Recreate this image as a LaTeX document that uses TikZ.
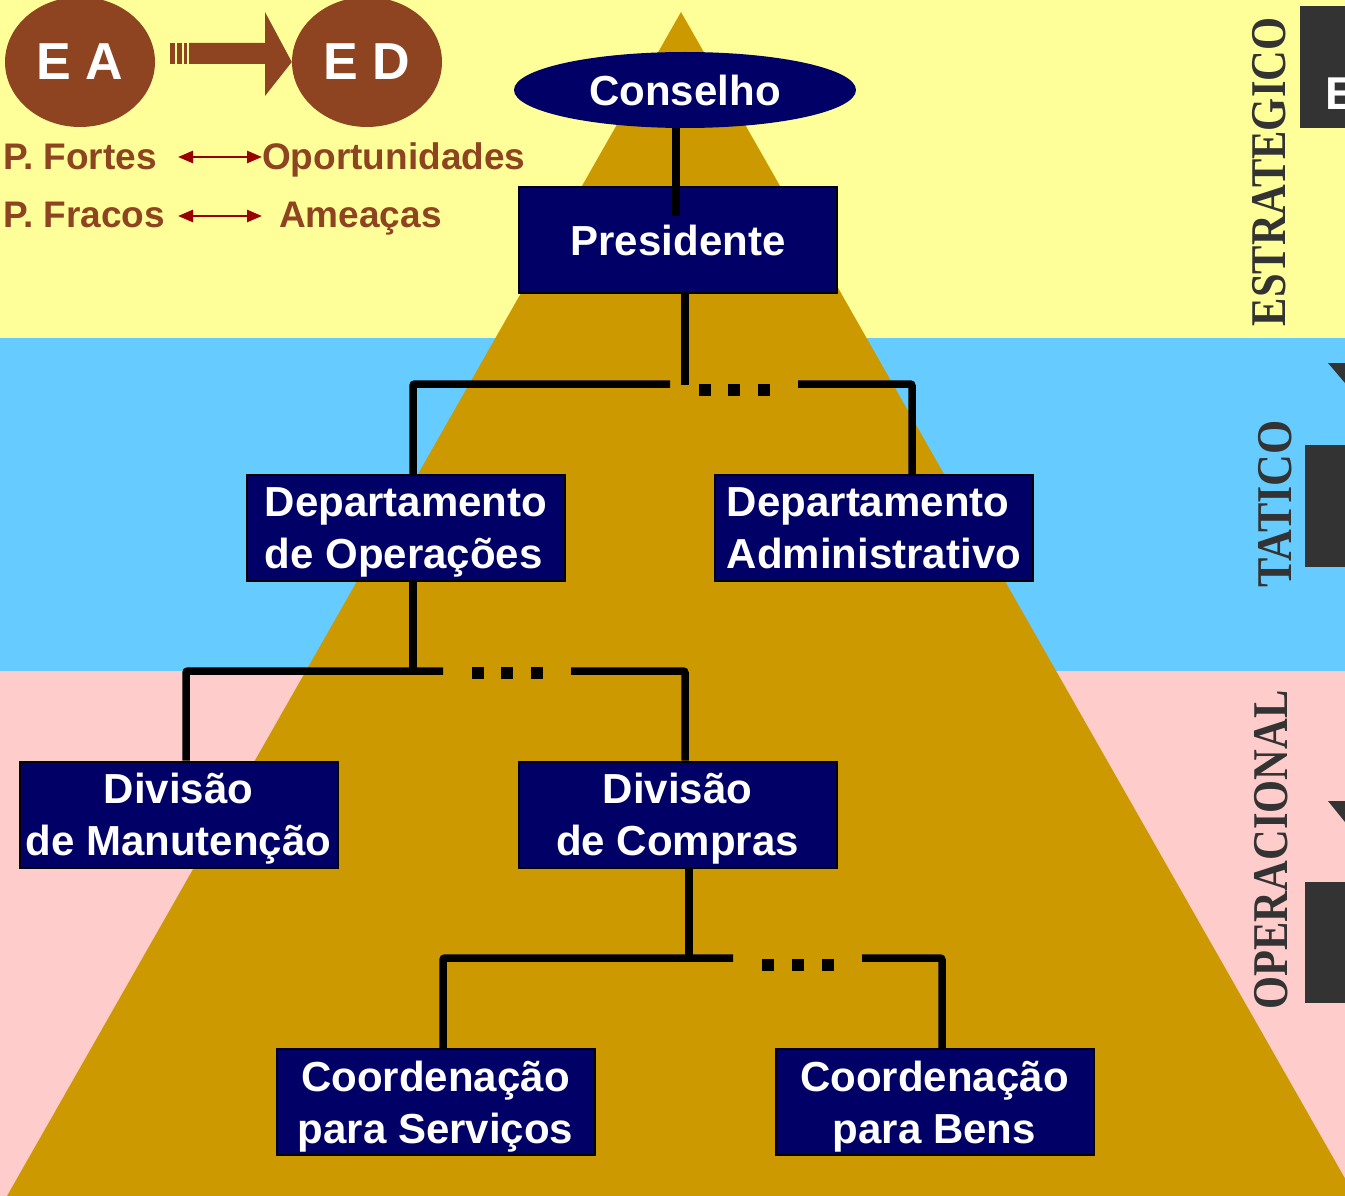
\documentclass[tikz,border=0pt]{standalone}
\usepackage{fontspec}
\setmainfont{Liberation Sans}
\newfontfamily\levelfont{Liberation Serif}
\usetikzlibrary{arrows.meta,shapes.geometric}

\definecolor{bandyellow}{HTML}{FFFF99}
\definecolor{bandblue}{HTML}{66CCFF}
\definecolor{bandpink}{HTML}{FFCCCC}
\definecolor{pyramidgold}{HTML}{CC9900}
\definecolor{boxnavy}{HTML}{000066}
\definecolor{rust}{HTML}{8E4421}
\definecolor{arrowred}{HTML}{990000}
\definecolor{slate}{HTML}{333333}

\tikzset{
  orgbox/.style={draw=black, line width=2pt, fill=boxnavy, text=white,
    font=\fontsize{42}{52}\selectfont\bfseries, minimum width=318pt,
    minimum height=106pt, inner sep=0pt, align=center, text depth=0pt},
  link/.style={line width=7.5pt, rounded corners=2pt},
  dotsq/.style={fill=black, rectangle, minimum size=12pt, inner sep=0pt},
  bubble/.style={ellipse, fill=rust, text=white, minimum width=150pt,
    minimum height=130pt, inner sep=0pt, font=\fontsize{52}{60}\selectfont\bfseries},
  swot/.style={anchor=base west, inner sep=0pt, text=rust,
    font=\fontsize{37}{42}\selectfont\bfseries},
  duo/.style={arrowred, line width=2.5pt,
    {Triangle[length=15pt,width=12pt]}-{Triangle[length=15pt,width=12pt]}},
  level/.style={rotate=90, anchor=base, inner sep=0pt, text=slate,
    font=\fontsize{50}{56}\selectfont\levelfont\bfseries}
}

\begin{document}
\begin{tikzpicture}[x=1pt,y=-1pt]
\useasboundingbox (0,0) rectangle (1345,1196);
\begin{scope}
\clip (0,0) rectangle (1345,1196);

% background bands
\fill[bandyellow] (0,0) rectangle (1345,338);
\fill[bandblue] (0,338) rectangle (1345,671);
\fill[bandpink] (0,671) rectangle (1345,1196);

% pyramid
\fill[pyramidgold] (681,12) -- (7,1196) -- (1355,1196) -- cycle;

% level labels and side tabs
\node[level] (lvlE) at (1285,172) {\scalebox{0.85}[1]{ESTRATEGICO}};
\node[level] (lvlT) at (1291,504) {\scalebox{0.88}[1]{TATICO}};
\node[level] (lvlO) at (1287,850) {\scalebox{0.85}[1]{OPERACIONAL}};

\fill[slate] (1300,6) rectangle (1345,128);
\node[anchor=base west, inner sep=0pt, text=white,
  font=\fontsize{46}{50}\selectfont\bfseries] (tabE) at (1325,110) {E};
\fill[slate] (1328,363) -- (1345,363) -- (1345,383) -- cycle;
\fill[slate] (1305,445) rectangle (1345,567);
\fill[slate] (1328,801) -- (1345,801) -- (1345,822) -- cycle;
\fill[slate] (1305,882) rectangle (1345,1003);

% strategy bubbles
\node[bubble] (ea) at (80,62) {E A};
\node[bubble] (ed) at (367,62) {E D};
\fill[rust] (170,43) rectangle (175,64);
\fill[rust] (177,43) rectangle (182,64);
\fill[rust] (184,43) rectangle (187,64);
\fill[rust] (189,43) -- (265,43) -- (265,12) -- (ed.west) -- (265,96)
  -- (265,64) -- (189,64) -- cycle;

% SWOT pairs
\node[swot] (pf) at (3,170) {P. Fortes};
\node[swot] (op) at (262,170) {Oportunidades};
\node[swot] (pfr) at (3,227) {P. Fracos};
\node[swot] (am) at (279,227) {Ameaças};
\coordinate (a1l) at (178,157);
\coordinate (a1r) at (262,157);
\coordinate (a2l) at (178,216);
\coordinate (a2r) at (262,216);
\draw[duo] (a1l) -- (a1r);
\draw[duo] (a2l) -- (a2r);

% organisation chart
\node[orgbox] (pres) at (678,240) {Presidente};
\node[ellipse, fill=boxnavy, text=white, minimum width=342pt, minimum height=76pt,
  inner sep=0pt, font=\fontsize{42}{52}\selectfont\bfseries] (cons) at (685,90) {Conselho};
\draw[link] ([xshift=-9pt]cons.south) -- ([xshift=-2pt,yshift=-30pt]pres.north);

\node[orgbox, align=left] (dops) at (406,528) {Departamento\\de Operações};
\node[orgbox, align=left] (dadm) at (874,528) {Departamento\\Administrativo};
\node[orgbox] (dman) at (178.5,814.5) {Divisão\\de Manutenção};
\node[orgbox] (dcom) at (677.5,814.5) {Divisão\\de Compras};
\node[orgbox] (cserv) at (435.5,1102) {Coordenação\\para Serviços};
\node[orgbox] (cbens) at (934.5,1102) {Coordenação\\para Bens};

% level 1 branches
\coordinate (j1l) at (670,384);
\coordinate (j1r) at (798,384);
\draw[link] ([xshift=7pt]pres.south) -- ++(0,91);
\draw[link] (j1l) -| ([xshift=7pt]dops.north);
\draw[link] (j1r) -| ([xshift=38pt]dadm.north);
\node[dotsq] (d1a) at (705,390) {};
\node[dotsq] (d1b) at (734,390) {};
\node[dotsq] (d1c) at (764,390) {};

% level 2 branches
\coordinate (j2l) at (443,671);
\coordinate (j2r) at (571,671);
\draw[link] ([xshift=7pt]dops.south) -- ++(0,90);
\draw[link] (j2l) -| ([xshift=7.5pt]dman.north);
\draw[link] (j2r) -| ([xshift=7.5pt]dcom.north);
\node[dotsq] (d2a) at (477.5,673) {};
\node[dotsq] (d2b) at (507,673) {};
\node[dotsq] (d2c) at (537,673) {};

% level 3 branches
\coordinate (j3l) at (733,958);
\coordinate (j3r) at (862,958);
\draw[link] ([xshift=11.5pt]dcom.south) -- ++(0,91);
\draw[link] (j3l) -| ([xshift=7.5pt]cserv.north);
\draw[link] (j3r) -| ([xshift=7.5pt]cbens.north);
\node[dotsq] (d3a) at (768,965) {};
\node[dotsq] (d3b) at (798,965) {};
\node[dotsq] (d3c) at (828,965) {};
\end{scope}
\end{tikzpicture}
\end{document}
